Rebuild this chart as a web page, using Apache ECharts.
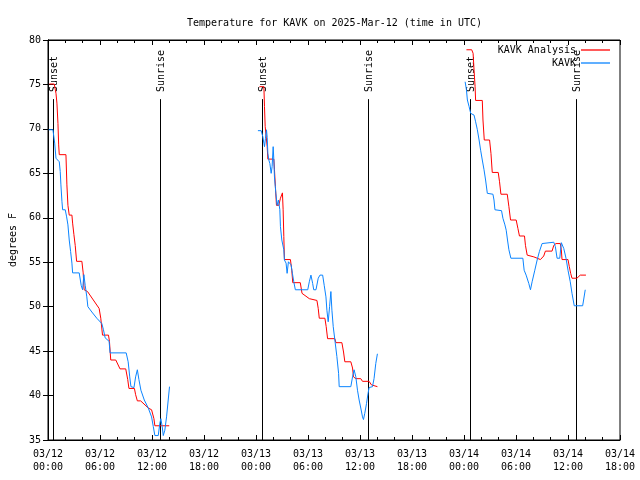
<!DOCTYPE html>
<html>
<head>
<meta charset="utf-8">
<script src="https://cdn.jsdelivr.net/npm/echarts@6/dist/echarts.min.js"></script>
<style>html,body{margin:0;padding:0;background:#fff;}#c{width:640px;height:480px;}</style>
</head>
<body>
<div id="c"></div>
<script>
// hours since 03/12 00:00 UTC, temperature in degrees F
const xTickLabels = ['03/12\n00:00','03/12\n06:00','03/12\n12:00','03/12\n18:00','03/13\n00:00','03/13\n06:00','03/13\n12:00','03/13\n18:00','03/14\n00:00','03/14\n06:00','03/14\n12:00','03/14\n18:00'];
const yTicks = [35,40,45,50,55,60,65,70,75,80];

const analysis1 = [[0.15,75.05],[0.72,75.05],[0.92,74.0],[1.03,72.9],[1.15,70.6],[1.23,68.2],[1.30,67.1],[2.07,67.1],[2.18,63.7],[2.30,61.4],[2.45,60.3],[2.76,60.3],[2.84,59.4],[2.99,58.1],[3.14,56.9],[3.30,55.1],[3.91,55.1],[4.06,53.8],[4.17,51.9],[4.56,51.7],[5.90,49.8],[6.09,48.7],[6.29,46.8],[6.98,46.8],[7.09,46.1],[7.24,44.0],[7.82,44.0],[8.31,43.0],[8.97,43.0],[9.20,41.8],[9.34,40.8],[9.97,40.8],[10.11,40.1],[10.31,39.4],[10.69,39.4],[11.57,38.6],[11.95,38.4],[12.22,37.4],[12.33,36.6],[13.99,36.6]];
const obs1 = [[0.08,69.9],[0.57,69.9],[0.77,68.4],[0.92,66.7],[1.30,66.3],[1.41,65.2],[1.49,63.7],[1.61,61.8],[1.69,60.9],[1.99,60.9],[2.15,60.1],[2.30,59.2],[2.45,57.5],[2.61,56.2],[2.76,54.9],[2.84,53.8],[3.60,53.8],[3.83,52.4],[3.99,51.9],[4.14,53.6],[4.29,52.4],[4.48,51.1],[4.60,50.0],[5.06,49.4],[5.63,48.7],[6.21,48.1],[6.40,47.4],[6.59,46.5],[7.05,46.1],[7.16,44.8],[9.02,44.8],[9.25,43.8],[9.43,42.1],[9.57,41.0],[9.92,40.9],[10.11,42.1],[10.31,42.9],[10.49,41.8],[10.72,40.6],[11.11,39.5],[11.57,38.6],[11.95,37.6],[12.15,36.5],[12.33,35.5],[12.72,35.5],[12.91,36.9],[13.02,37.4],[13.18,36.5],[13.30,35.5],[13.48,36.1],[13.68,37.6],[13.87,39.5],[14.02,41.0]];

const analysis2 = [[24.40,74.75],[24.91,74.75],[24.98,72.5],[25.06,70.25],[25.29,68.0],[25.37,66.6],[26.06,66.6],[26.13,65.4],[26.24,63.5],[26.36,61.4],[26.63,61.4],[26.82,62.2],[27.05,62.8],[27.13,60.9],[27.21,57.9],[27.28,55.3],[27.97,55.3],[28.13,54.1],[28.24,52.7],[29.11,52.7],[29.31,51.5],[30.15,50.9],[30.34,50.7],[31.03,50.7],[31.18,49.8],[31.30,48.7],[31.95,48.7],[32.10,47.75],[32.26,46.4],[33.10,46.4],[33.22,45.95],[33.91,45.95],[34.10,44.9],[34.25,43.8],[34.94,43.8],[35.14,43.1],[35.25,42.1],[35.52,41.9],[36.09,41.9],[36.29,41.6],[37.05,41.6],[37.32,41.2],[37.44,41.0],[38.01,41.0]];
const obs2 = [[24.22,69.8],[24.60,69.8],[24.79,69.1],[24.91,68.4],[24.98,68.0],[25.09,68.9],[25.21,69.9],[25.29,69.05],[25.37,67.25],[25.48,66.5],[25.60,66.1],[25.75,65.0],[25.86,65.75],[25.98,68.0],[26.06,66.5],[26.13,64.6],[26.29,62.75],[26.44,61.4],[26.59,62.0],[26.75,60.9],[26.82,59.0],[26.98,57.5],[27.13,57.3],[27.21,56.4],[27.28,55.25],[27.47,54.9],[27.59,53.75],[27.74,55.05],[27.90,55.25],[28.05,54.7],[28.20,53.75],[28.36,52.8],[28.54,51.9],[29.97,51.9],[30.15,52.8],[30.34,53.55],[30.54,52.6],[30.66,51.9],[30.92,51.9],[31.18,53.2],[31.38,53.55],[31.69,53.55],[31.87,52.4],[32.07,51.1],[32.18,49.6],[32.33,48.3],[32.49,50.0],[32.64,51.7],[32.76,49.6],[32.91,47.75],[33.10,46.25],[33.33,44.4],[33.53,42.5],[33.60,41.0],[34.94,41.0],[35.14,42.1],[35.32,42.9],[35.52,42.1],[35.71,40.6],[35.90,39.5],[36.09,38.6],[36.29,37.6],[36.40,37.3],[36.55,38.0],[36.75,39.1],[36.93,40.25],[37.05,40.9],[37.44,41.0],[37.62,41.9],[37.82,43.6],[38.01,44.7]];

const analysis3 = [[48.28,78.9],[48.89,78.9],[49.05,78.5],[49.16,76.6],[49.28,74.75],[49.34,73.2],[50.11,73.2],[50.19,71.0],[50.34,68.75],[50.95,68.75],[51.11,67.25],[51.26,65.1],[51.95,65.1],[52.10,64.05],[52.26,62.65],[52.99,62.65],[53.18,61.25],[53.37,59.75],[54.02,59.75],[54.22,58.8],[54.40,57.95],[54.98,57.95],[55.09,56.9],[55.29,55.8],[56.06,55.6],[56.82,55.3],[57.01,55.25],[57.20,55.7],[57.39,56.25],[58.16,56.25],[58.36,56.9],[58.62,57.1],[59.11,57.1],[59.23,56.4],[59.31,55.3],[60.00,55.3],[60.15,54.5],[60.31,53.75],[60.46,53.2],[61.03,53.2],[61.41,53.55],[62.07,53.55]];
const obs3 = [[48.13,75.3],[48.28,74.4],[48.39,73.25],[48.59,72.5],[48.77,71.75],[49.16,71.55],[49.34,70.8],[49.54,69.9],[49.74,68.75],[49.92,67.6],[50.11,66.5],[50.31,65.4],[50.49,64.25],[50.69,62.75],[51.34,62.65],[51.46,62.0],[51.57,60.9],[52.33,60.8],[52.49,59.95],[52.72,59.2],[52.87,58.6],[53.02,57.5],[53.18,56.4],[53.41,55.45],[54.79,55.45],[54.94,54.1],[55.17,53.55],[55.48,52.6],[55.67,51.9],[55.86,52.8],[56.17,54.1],[56.44,55.25],[56.70,56.2],[57.01,57.1],[58.36,57.25],[58.54,56.75],[58.74,55.45],[59.05,55.45],[59.23,57.2],[59.51,56.55],[59.77,55.45],[60.00,54.1],[60.26,52.8],[60.46,51.5],[60.72,50.1],[61.69,50.1],[61.80,50.75],[61.99,51.9]];

const eventHours = [0.57, 12.87, 24.68, 36.97, 48.66, 60.95];
const eventLabels = ['Sunset','Sunrise','Sunset','Sunrise','Sunset','Sunrise'];
const eventLineTop = 73.35;

const FONT = 'DejaVu Sans Mono';
const RED = '#ff0000', BLUE = '#0a84ff';

const chart = echarts.init(document.getElementById('c'), null, {renderer: 'canvas'});

function lineSeries(name, data, color) {
  return {
    name: name, type: 'line', data: data, symbol: 'none', showSymbol: false,
    lineStyle: {color: color, width: 1}, itemStyle: {color: color},
    emphasis: {disabled: true}, animation: false, z: 3
  };
}

const axisCommon = {
  axisLine: {show: true, lineStyle: {color: '#000', width: 1}},
  axisTick: {show: true, inside: true, length: 5, lineStyle: {color: '#000', width: 1}},
  splitLine: {show: false}
};

const legendCommon = {
  orient: 'vertical', right: 30, align: 'right', padding: 0,
  icon: 'rect', itemWidth: 29, itemHeight: 1.3, selectedMode: false,
  textStyle: {fontFamily: FONT, fontSize: 10, color: '#000'}
};

const option = {
  backgroundColor: '#fff',
  animation: false,
  title: {
    text: 'Temperature for KAVK on 2025-Mar-12 (time in UTC)',
    left: 182, top: 13,
    textStyle: {fontFamily: FONT, fontSize: 10, fontWeight: 'normal', color: '#000'}
  },
  legend: [
    Object.assign({}, legendCommon, {data: ['KAVK Analysis'], top: 45}),
    Object.assign({}, legendCommon, {data: ['KAVK'], top: 58})
  ],
  grid: {left: 46, top: 40, width: 574, height: 400, show: true, borderColor: '#000', borderWidth: 1, containLabel: false},
  xAxis: [
    Object.assign({}, axisCommon, {
      type: 'value', min: 0, max: 66, interval: 6, position: 'bottom',
      minorTick: {show: true, splitNumber: 3, length: 3, lineStyle: {color: '#000', width: 1}},
      axisLabel: {fontFamily: FONT, fontSize: 10, color: '#000', lineHeight: 13, margin: 8,
        formatter: function (v) { return xTickLabels[Math.round(v / 6)] || ''; }}
    }),
    Object.assign({}, axisCommon, {
      type: 'value', min: 0, max: 66, interval: 6, position: 'top',
      minorTick: {show: true, splitNumber: 3, length: 3, lineStyle: {color: '#000', width: 1}},
      axisLabel: {show: false}
    })
  ],
  yAxis: [
    Object.assign({}, axisCommon, {
      type: 'value', min: yTicks[0], max: yTicks[yTicks.length - 1], interval: 5, position: 'left',
      name: 'degrees F', nameLocation: 'middle', nameGap: 30,
      nameTextStyle: {fontFamily: FONT, fontSize: 10, color: '#000'},
      axisLabel: {fontFamily: FONT, fontSize: 10, color: '#000', margin: 7}
    }),
    Object.assign({}, axisCommon, {
      type: 'value', min: yTicks[0], max: yTicks[yTicks.length - 1], interval: 5, position: 'right',
      axisLabel: {show: false}
    })
  ],
  series: [
    lineSeries('KAVK Analysis', analysis1, RED),
    lineSeries('KAVK Analysis', analysis2, RED),
    lineSeries('KAVK Analysis', analysis3, RED),
    lineSeries('KAVK', obs1, BLUE),
    lineSeries('KAVK', obs2, BLUE),
    lineSeries('KAVK', obs3, BLUE),
    {
      type: 'custom', name: 'sun', silent: true, z: 2,
      data: eventHours.map(function (h, i) { return [h, eventLabels[i]]; }),
      renderItem: function (params, api) {
        const h = api.value(0);
        const label = eventLabels[params.dataIndex];
        const p0 = api.coord([h, 35]);
        const p1 = api.coord([h, eventLineTop]);
        const x = Math.round(p0[0]) + 0.5;
        return {
          type: 'group',
          children: [
            {type: 'line', shape: {x1: x, y1: p0[1], x2: x, y2: p1[1]},
             style: {stroke: '#000', lineWidth: 1}},
            {type: 'text', x: x + 1, y: p1[1] - 7, rotation: Math.PI / 2,
             style: {text: label, font: '10px ' + FONT, fill: '#000',
                     align: 'left', verticalAlign: 'middle', textAlign: 'left', textVerticalAlign: 'middle'}}
          ]
        };
      }
    }
  ]
};
chart.setOption(option);
</script>
</body>
</html>
